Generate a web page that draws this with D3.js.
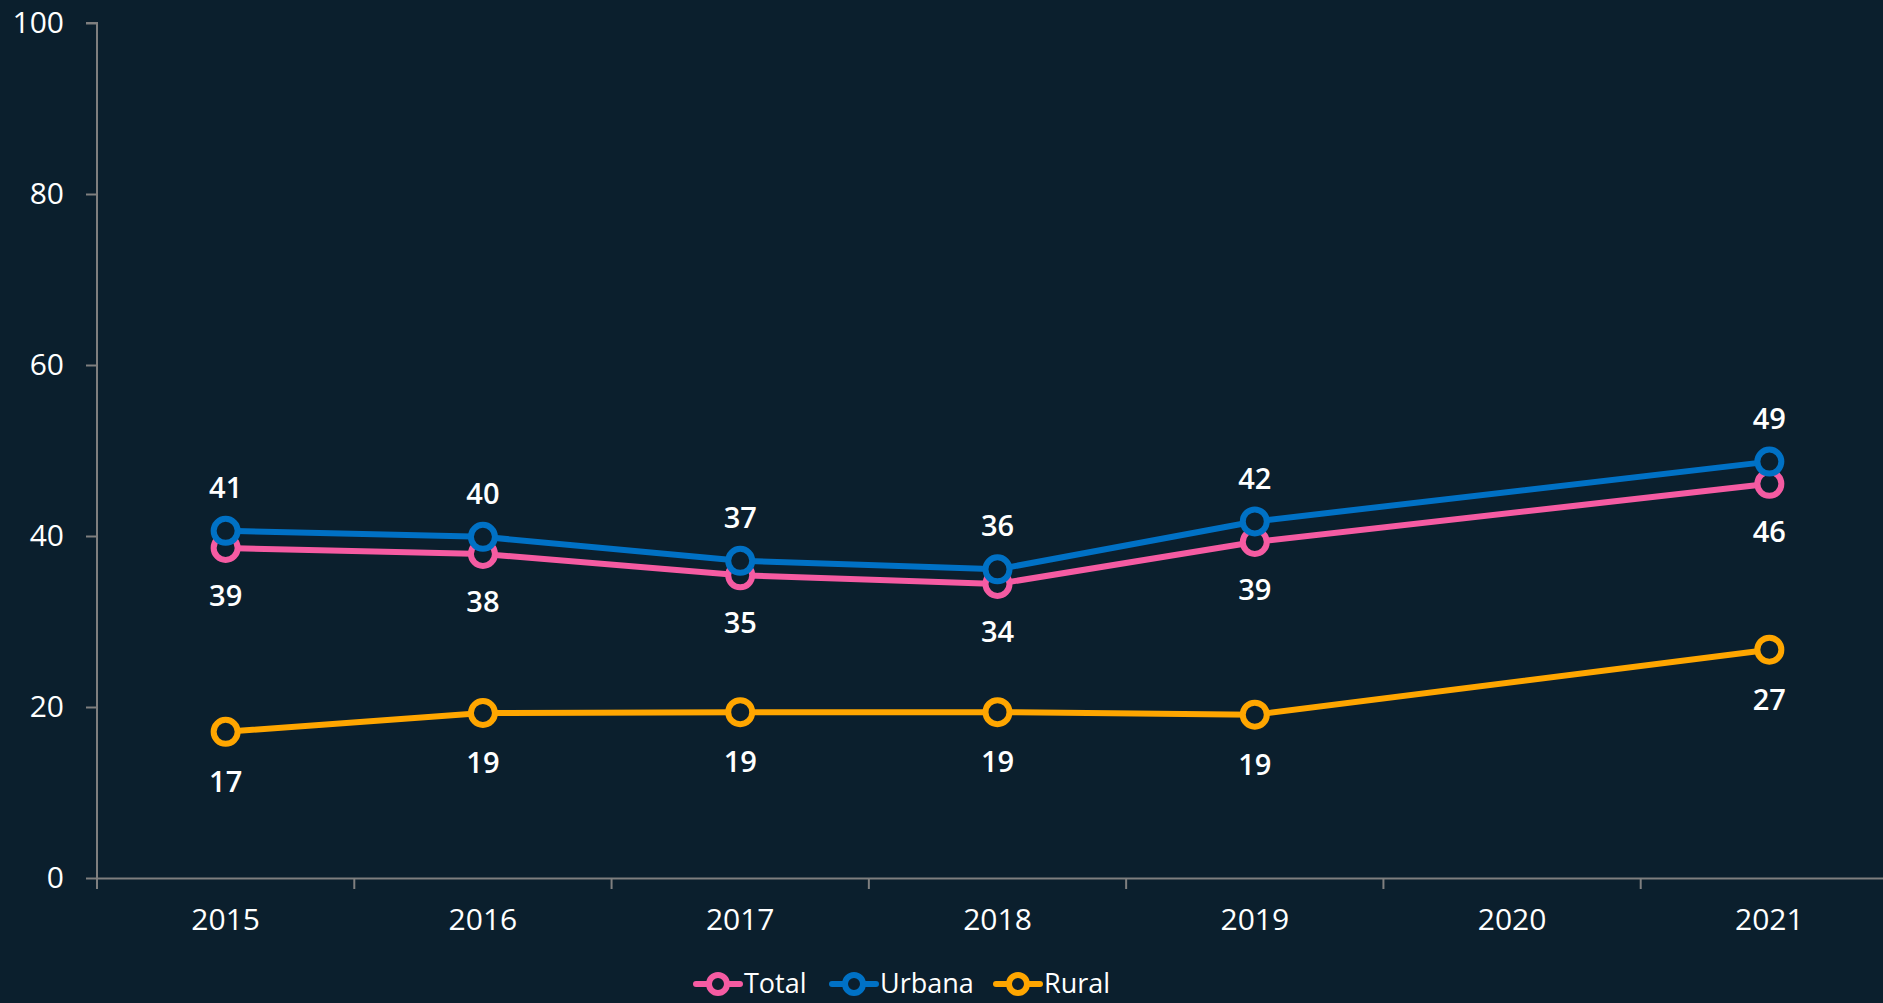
<!DOCTYPE html>
<html lang="es">
<head>
<meta charset="UTF-8">
<title>Total, Urbana, Rural 2015-2021</title>
<script src="https://cdnjs.cloudflare.com/ajax/libs/d3/7.8.5/d3.min.js"></script>
<style>
  html, body { margin: 0; padding: 0; background: #0b1f2d; overflow: hidden; }
  svg { display: block; font-family: "Open Sans", "Noto Sans", sans-serif; }
</style>
</head>
<body>
<svg id="chart" width="1883" height="1003"></svg>
<script>
// data
const years = ["2015", "2016", "2017", "2018", "2019", "2020", "2021"];
const total = [38.6, 37.9, 35.4, 34.4, 39.3, null, 46.1];
const urbana = [40.6, 39.9, 37.1, 36.1, 41.7, null, 48.7];
const rural = [17.1, 19.3, 19.4, 19.4, 19.1, null, 26.7];
const yTicks = [0, 20, 40, 60, 80, 100];

const width = 1883, height = 1003;
const margin = { top: 23, right: -15, bottom: 125, left: 97 };
const bg = "#0b1f2d";

const series = [
  { name: "Total", values: total, color: "#f55ba2", dy: 48 },
  { name: "Urbana", values: urbana, color: "#0071c5", dy: -43 },
  { name: "Rural", values: rural, color: "#ffa600", dy: 50 }
];

const svg = d3.select("#chart");

svg.append("rect").attr("width", width).attr("height", height).attr("fill", bg);

const x = d3.scaleBand()
  .domain(years)
  .range([margin.left, width - margin.right]);

const y = d3.scaleLinear()
  .domain([0, 100])
  .range([height - margin.bottom, margin.top]);

// y axis
const yAxis = svg.append("g")
  .attr("transform", `translate(${margin.left},0)`)
  .call(d3.axisLeft(y).tickValues(yTicks).tickSize(11).tickPadding(22))
  .attr("font-family", null);
yAxis.select(".domain").attr("stroke", "#7f7f7f").attr("stroke-width", 2)
  .attr("d", `M-11,${y(100)}H0V${y(0)}`);
yAxis.selectAll(".tick line").attr("stroke", "#7f7f7f").attr("stroke-width", 2);
yAxis.selectAll(".tick text").attr("fill", "#ffffff").attr("font-size", 30);

// x axis
const xAxis = svg.append("g")
  .attr("transform", `translate(0,${y(0)})`)
  .call(d3.axisBottom(x).tickSizeOuter(0).tickSize(0).tickPadding(31))
  .attr("font-family", null);
xAxis.select(".domain").attr("stroke", "#7f7f7f").attr("stroke-width", 2);
xAxis.selectAll(".tick text").attr("fill", "#ffffff").attr("font-size", 30);
// band boundary ticks
xAxis.selectAll("line.band")
  .data(years)
  .enter().append("line")
  .attr("class", "band")
  .attr("x1", d => x(d)).attr("x2", d => x(d))
  .attr("y1", 0).attr("y2", 11)
  .attr("stroke", "#7f7f7f").attr("stroke-width", 2);

const cx = i => x(years[i]) + x.bandwidth() / 2;

const line = d3.line()
  .defined(d => d.v != null)
  .x(d => cx(d.i))
  .y(d => y(d.v));

// draw rural first, then total, then urbana on top
const drawOrder = [series[2], series[0], series[1]];

drawOrder.forEach(s => {
  const pts = s.values.map((v, i) => ({ v, i })).filter(d => d.v != null);
  svg.append("path")
    .datum(pts)
    .attr("fill", "none")
    .attr("stroke", s.color)
    .attr("stroke-width", 6)
    .attr("stroke-linejoin", "round")
    .attr("d", line);
  svg.selectAll(null)
    .data(pts)
    .enter().append("circle")
    .attr("cx", d => cx(d.i))
    .attr("cy", d => y(d.v))
    .attr("r", 12)
    .attr("fill", bg)
    .attr("stroke", s.color)
    .attr("stroke-width", 6);
});

// data labels
series.forEach(s => {
  const pts = s.values.map((v, i) => ({ v, i })).filter(d => d.v != null);
  svg.selectAll(null)
    .data(pts)
    .enter().append("text")
    .attr("x", d => cx(d.i))
    .attr("y", d => y(d.v) + s.dy)
    .attr("dy", "0.35em")
    .attr("text-anchor", "middle")
    .attr("fill", "#ffffff")
    .attr("font-size", 29)
    .attr("font-weight", 600)
    .text(d => Math.round(d.v));
});

// legend
const legendX = [693, 829, 993];
series.forEach((s, k) => {
  const g = svg.append("g").attr("transform", `translate(${legendX[k]},984)`);
  g.append("line").attr("x1", 3).attr("x2", 47).attr("y1", 0).attr("y2", 0)
    .attr("stroke", s.color).attr("stroke-width", 6).attr("stroke-linecap", "round");
  g.append("circle").attr("cx", 25).attr("cy", 0).attr("r", 9)
    .attr("fill", bg).attr("stroke", s.color).attr("stroke-width", 6);
  g.append("text").attr("x", 51).attr("y", 0).attr("dy", "0.35em")
    .attr("fill", "#ffffff").attr("font-size", 27).text(s.name);
});
</script>
</body>
</html>
